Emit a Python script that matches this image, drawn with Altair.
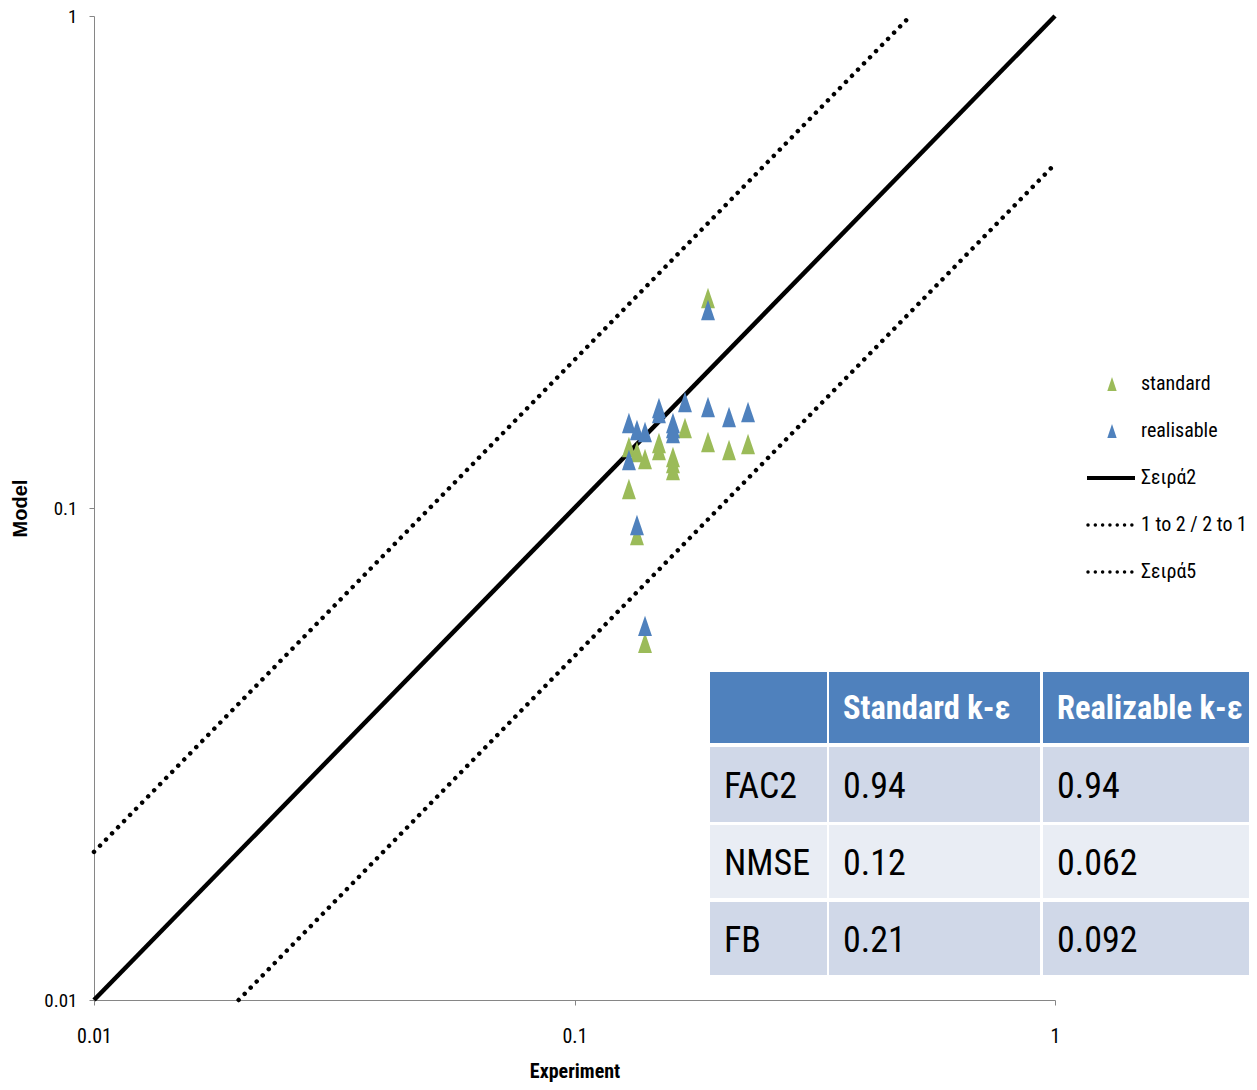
import altair as alt
import pandas as pd

# ---------------- data ----------------
experiment = [0.1298, 0.1298, 0.1349, 0.1349, 0.1402, 0.1402, 0.1499, 0.1499,
              0.1603, 0.1603, 0.1603, 0.1698, 0.1896, 0.1896, 0.2097, 0.2297]
standard = [0.1330, 0.1093, 0.1300, 0.0881, 0.1258, 0.0532, 0.1356, 0.1312,
            0.1269, 0.1235, 0.1195, 0.1454, 0.2672, 0.1362, 0.1312, 0.1349]
realisable = [0.1489, 0.1252, 0.1440, 0.0924, 0.1427, 0.0576, 0.1597, 0.1560,
              0.1489, 0.1454, 0.1420, 0.1643, 0.2526, 0.1605, 0.1531, 0.1567]

series_names = ["standard", "realisable"]
series_colors = ["#9BBB59", "#4F81BD"]

# reference lines: 1:1, 2:1 and 1:2
line_11_x = [0.01, 1.0]
line_11_y = [0.01, 1.0]
line_21_x = [0.01, 0.5]
line_21_y = [0.02, 1.0]
line_12_x = [0.02, 1.0]
line_12_y = [0.01, 0.5]

legend_labels = ["standard", "realisable", "Σειρά2", "1 to 2 / 2 to 1", "Σειρά5"]
legend_kinds = ["standard", "realisable", "solid", "dotted", "dotted"]

table_header = ["", "Standard k-ε", "Realizable k-ε"]
table_metrics = ["FAC2", "NMSE", "FB"]
table_standard = ["0.94", "0.12", "0.21"]
table_realizable = ["0.94", "0.062", "0.092"]

# ---------------- layout ----------------
W, H = 961, 984
FONT = "Liberation Sans Narrow, Roboto Condensed, Liberation Sans, sans-serif"
TRI = "M0,-1L0.68,1L-0.68,1Z"

pts = pd.DataFrame({
    "Experiment": experiment * 2,
    "Model": standard + realisable,
    "series": ["standard"] * len(standard) + ["realisable"] * len(realisable),
    "order": [0] * len(standard) + [1] * len(realisable),
})
lines = pd.DataFrame({
    "Experiment": line_11_x + line_21_x + line_12_x,
    "Model": line_11_y + line_21_y + line_12_y,
    "name": ["1to1"] * 2 + ["2to1"] * 2 + ["1to2"] * 2,
    "style": ["solid"] * 2 + ["dotted"] * 4,
})

xs = alt.Scale(type="log", domain=[0.01, 1], nice=False)
ys = alt.Scale(type="log", domain=[0.01, 1], nice=False)

x_axis = alt.Axis(values=[0.01, 0.1, 1], format="~g", grid=False,
                  domainColor="#868686", tickColor="#868686", tickSize=5,
                  labelFont=FONT, labelFontSize=20, labelColor="#000",
                  labelPadding=21, labelFlush=False,
                  title="Experiment", titleFont=FONT, titleFontSize=20,
                  titleFontWeight="bold", titleColor="#000",
                  titleX=W / 2, titleY=71, titleBaseline="middle")
y_axis = alt.Axis(values=[0.01, 0.1, 1], format="~g", grid=False,
                  domainColor="#868686", tickColor="#868686", tickSize=5,
                  labelFont=FONT, labelFontSize=19, labelColor="#000",
                  labelPadding=12, labelFlush=False, labelBaseline="middle",
                  title="Model", titleFont="Liberation Sans", titleFontSize=20,
                  titleFontWeight="bold", titleColor="#000",
                  titleX=-74, titleY=H / 2, titleAngle=-90,
                  titleAlign="center", titleBaseline="middle")

X = alt.X("Experiment:Q", scale=xs, axis=x_axis)
Y = alt.Y("Model:Q", scale=ys, axis=y_axis)

solid = alt.Chart(lines[lines["style"] == "solid"]).mark_line(
    color="#000", strokeWidth=4.5).encode(x=X, y=Y, detail="name:N")

dotted = alt.Chart(lines[lines["style"] == "dotted"]).mark_line(
    color="#000", strokeWidth=4.5, strokeDash=[0.01, 8.6], strokeCap="round").encode(
    x=X, y=Y, detail="name:N")

points = alt.Chart(pts).mark_point(shape=TRI, filled=True, opacity=1, size=420).encode(
    x=X, y=Y,
    color=alt.Color("series:N", scale=alt.Scale(domain=series_names, range=series_colors), legend=None),
    order=alt.Order("order:Q"))

main = alt.layer(solid, dotted, points)

# ---------------- legend ----------------
leg = pd.DataFrame({"i": list(range(len(legend_labels))), "label": legend_labels, "kind": legend_kinds})
lx = alt.Scale(domain=[0, 48], range=[993, 1041])
ly = alt.Scale(domain=[0, 4], range=[368, 556])

leg_text = alt.Chart(leg).transform_calculate(tx="54").mark_text(
    align="left", baseline="middle", font=FONT, fontSize=20, color="#000").encode(
    x=alt.X("tx:Q", scale=lx, axis=None),
    y=alt.Y("i:Q", scale=ly, axis=None),
    text="label:N")

leg_sym = alt.Chart(leg).transform_filter(
    alt.FieldOneOfPredicate(field="kind", oneOf=series_names)).transform_calculate(
    sx="25").mark_point(shape=TRI, filled=True, opacity=1, size=190).encode(
    x=alt.X("sx:Q", scale=lx, axis=None),
    y=alt.Y("i:Q", scale=ly, axis=None),
    color=alt.Color("kind:N", scale=alt.Scale(domain=series_names, range=series_colors), legend=None))

leg_solid = alt.Chart(leg).transform_filter(alt.datum.kind == "solid").transform_calculate(
    a="0", b="48").mark_rule(color="#000", strokeWidth=4).encode(
    x=alt.X("a:Q", scale=lx, axis=None), x2="b:Q",
    y=alt.Y("i:Q", scale=ly, axis=None))

leg_dot = alt.Chart(leg).transform_filter(alt.datum.kind == "dotted").transform_calculate(
    a="1", b="48").mark_rule(color="#000", strokeWidth=3.5, strokeDash=[0.01, 7.3],
                             strokeCap="round").encode(
    x=alt.X("a:Q", scale=lx, axis=None), x2="b:Q",
    y=alt.Y("i:Q", scale=ly, axis=None))

legend = alt.layer(leg_sym, leg_solid, leg_dot, leg_text)

# ---------------- table ----------------
col_left = [0, 119, 333]
col_right = [117, 330, 560]
row_top = [0, 75, 153, 230]
row_bottom = [71, 150, 226, 303]
row_fill = ["#4F81BD", "#D0D8E8", "#E9EDF4", "#D0D8E8"]

rows = [table_header] + [[m, s, r] for m, s, r in zip(table_metrics, table_standard, table_realizable)]
cells = []
for ri, row in enumerate(rows):
    for ci, txt in enumerate(row):
        cells.append({"x0": col_left[ci], "x1": col_right[ci], "y0": row_top[ri], "y1": row_bottom[ri],
                      "tx": col_left[ci] + 14, "ty": (row_top[ri] + row_bottom[ri]) / 2,
                      "fill": row_fill[ri], "text": txt, "header": ri == 0})
cells = pd.DataFrame(cells)

tx = alt.Scale(domain=[0, 547], range=[616, 1163])
ty = alt.Scale(domain=[0, 303], range=[656, 959])

tab_rect = alt.Chart(cells).mark_rect().encode(
    x=alt.X("x0:Q", scale=tx, axis=None), x2="x1:Q",
    y=alt.Y("y0:Q", scale=ty, axis=None), y2="y1:Q",
    color=alt.Color("fill:N", scale=None))

tab_head = alt.Chart(cells[cells["header"]]).mark_text(
    align="left", baseline="middle", font=FONT, fontSize=32.5, fontWeight="bold",
    color="#FFFFFF", dy=1).encode(
    x=alt.X("tx:Q", scale=tx, axis=None),
    y=alt.Y("ty:Q", scale=ty, axis=None),
    text="text:N")

tab_body = alt.Chart(cells[~cells["header"]]).mark_text(
    align="left", baseline="middle", font=FONT, fontSize=36,
    color="#000000", dy=2).encode(
    x=alt.X("tx:Q", scale=tx, axis=None),
    y=alt.Y("ty:Q", scale=ty, axis=None),
    text="text:N")

table = alt.layer(tab_rect, tab_head, tab_body)

chart = alt.layer(main, legend, table).resolve_scale(
    x="independent", y="independent", color="independent").properties(
    width=W, height=H,
    autosize=alt.AutoSizeParams(type="none"),
    padding={"left": 86, "top": 8, "right": 194, "bottom": 84},
    background="#FFFFFF",
).configure_view(stroke=None)

chart.save("out.html", embed_options={"renderer": "svg", "actions": False})
